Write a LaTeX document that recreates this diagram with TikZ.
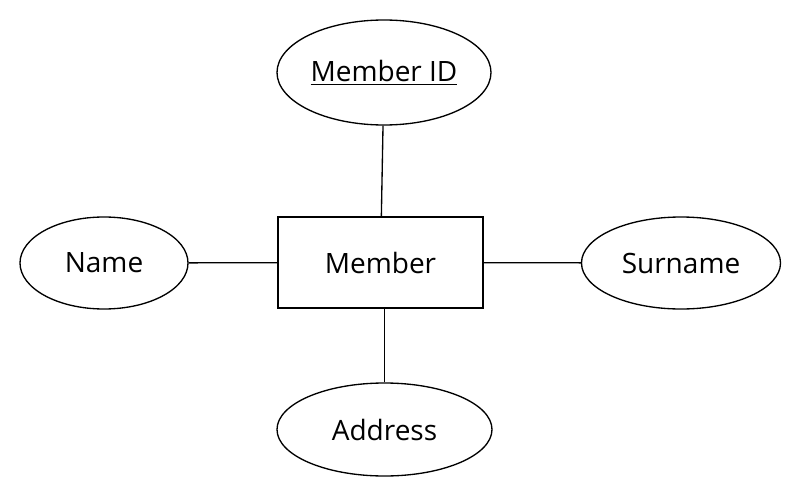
\documentclass[tikz,border=0pt]{standalone}
\usepackage{fontspec}
\setmainfont{Open Sans}
\usetikzlibrary{shapes.geometric}
\begin{document}
\begin{tikzpicture}[x=.75pt, y=-.75pt, line width=1pt, draw=black,
	attr/.style={ellipse, draw, inner sep=0pt, font=\fontsize{21}{24}\selectfont},
	entity/.style={rectangle, draw, inner sep=0pt, font=\fontsize{21}{24}\selectfont}]
	\useasboundingbox (0,0) rectangle (800,496);
	\node[entity, minimum width=153.75pt, minimum height=68.25pt] (member)  at (380.5,262.5) {Member};
	\node[attr, minimum width=160.5pt, minimum height=78.75pt]    (id)      at (384,72.5)    {\underline{Member ID}};
	\node[attr, minimum width=126pt, minimum height=69pt]         (name)    at (104,263)     {Name};
	\node[attr, minimum width=149.25pt, minimum height=69pt]      (surname) at (681,263)     {Surname};
	\node[attr, minimum width=161.25pt, minimum height=69.75pt]   (address) at (384.5,429.5) {Address};
	\draw (id) -- (member);
	\draw (name) -- (member);
	\draw (member) -- (surname);
	\draw (address.north) -- (address.north |- member.south);
\end{tikzpicture}
\end{document}
